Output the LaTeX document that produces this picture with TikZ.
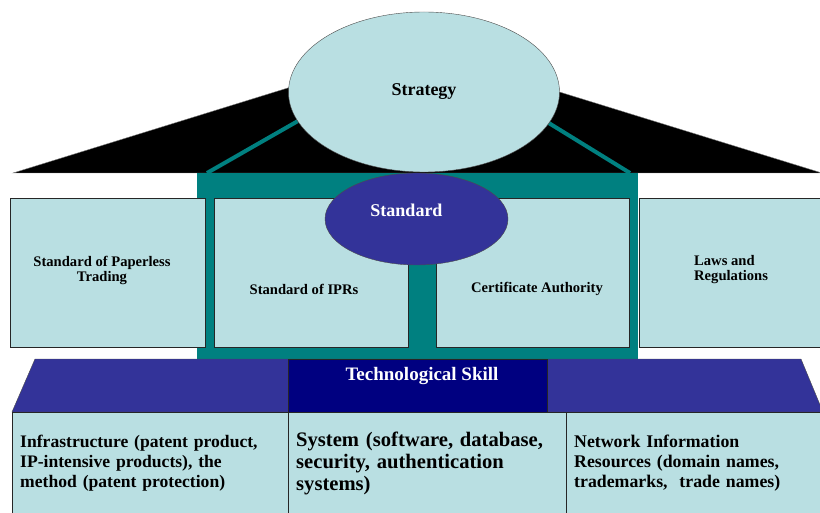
\documentclass[tikz,border=0pt]{standalone}
\usepackage{fontspec}
\setmainfont{Liberation Serif}
\usetikzlibrary{backgrounds, shapes.geometric}

\definecolor{paleteal}{HTML}{B9DFE2}
\definecolor{darkteal}{HTML}{008080}
\definecolor{indigo}{HTML}{333399}
\definecolor{navyblue}{HTML}{000080}

\begin{document}
\begin{tikzpicture}
		[
			x=1pt, y=-1pt,
			oval/.style={ellipse, draw=black!70, inner sep=0pt},
			pane/.style={rectangle, draw=black!85, fill=paleteal, inner sep=0pt, minimum height=149pt},
			ground/.style={rectangle, draw=black!85, fill=paleteal, anchor=north west, minimum height=102pt, inner xsep=8pt, align=left},
			caption/.style={inner sep=0pt, align=center, font=\bfseries\fontsize{14.6}{15}\selectfont},
			headline/.style={inner sep=0pt, font=\bfseries\fontsize{18}{20}\selectfont},
		]

		\useasboundingbox (0,0) rectangle (820,513);

		% Roof and frame
		\node[oval, fill=paleteal, minimum width=271pt, minimum height=160pt, headline] (strategy) at (424,92) {Strategy};
		\coordinate (eaveL) at (207,173);
		\coordinate (eaveR) at (630,173);
		\begin{scope}[on background layer]
			\filldraw[fill=black, draw=black!50] (13,173) -- (417,48) -- (822,173) -- cycle;
			\draw[darkteal, line width=4pt] (strategy.193) -- (eaveL);
			\draw[darkteal, line width=4pt] (strategy.346) -- (eaveR);
		\end{scope}
		\fill[darkteal] (197,173) rectangle (638,359);

		% Pillars
		\foreach \name/\x/\w in
		{
			paperless/107.5/195pt,
			iprs/311/194pt,
			authority/532.5/193pt,
			laws/731/184pt
		}
			\node[pane, minimum width=\w] (\name) at (\x,272.5) {};

		\node[caption] (paperlesstext) at (102,270) {Standard of Paperless\\Trading};
		\node[caption] (iprstext) at (304,289) {Standard of IPRs};
		\node[caption] (authoritytext) at (537,289) {Certificate Authority};
		\node[caption, anchor=west, align=left] (lawstext) at (694,270) {Laws and\\Regulations};

		\node[oval, fill=indigo, minimum width=183pt, minimum height=92pt] (standard) at (416.5,219) {};
		\node[headline, text=white] (standardtext) at (406.5,210) {Standard};

		% Base
		\filldraw[fill=indigo, draw=black!70] (35,359) -- (801,359) -- (823,412) -- (12,412) -- cycle;
		\node[rectangle, draw=black!85, fill=navyblue, minimum width=259pt, minimum height=53pt, inner sep=0pt] (skill) at (417.5,385.5) {};
		\node[headline, text=white, font=\bfseries\fontsize{19}{20}\selectfont] (skilltext) at (422,376) {Technological Skill};

		\node[ground, minimum width=276pt, text width=260pt, font=\bfseries\fontsize{17.6}{20}\selectfont] (infra) at (12,412)
			{Infrastructure (patent product,\\IP-intensive products), the\\method (patent protection)};
		\node[ground, minimum width=278pt, text width=262pt, font=\bfseries\fontsize{20.6}{22}\selectfont] (system) at (288,412)
			{System (software, database,\\security, authentication\\systems)};
		\node[ground, minimum width=258pt, text width=242pt, font=\bfseries\fontsize{17.8}{20}\selectfont] (network) at (566,412)
			{Network Information\\Resources (domain names,\\trademarks,~~trade names)};

		\end{tikzpicture}
\end{document}
